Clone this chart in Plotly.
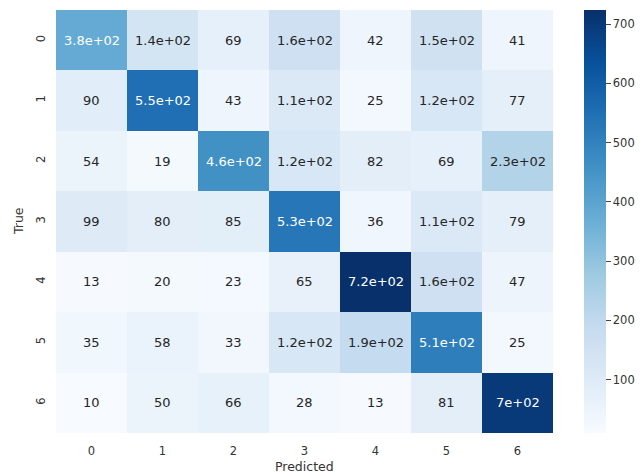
import numpy as np
import plotly.graph_objects as go

# Confusion matrix counts (rows = true class, columns = predicted class)
classes = ["0", "1", "2", "3", "4", "5", "6"]
row_0 = [380, 140, 69, 160, 42, 150, 41]
row_1 = [90, 550, 43, 110, 25, 120, 77]
row_2 = [54, 19, 460, 120, 82, 69, 230]
row_3 = [99, 80, 85, 530, 36, 110, 79]
row_4 = [13, 20, 23, 65, 724, 160, 47]
row_5 = [35, 58, 33, 120, 190, 510, 25]
row_6 = [10, 50, 66, 28, 13, 81, 700]
colorbar_ticks = [100, 200, 300, 400, 500, 600, 700]

z = np.array([row_0, row_1, row_2, row_3, row_4, row_5, row_6], dtype=float)

# Blues colour ramp
blues = ["#f7fbff", "#deebf7", "#c6dbef", "#9ecae1", "#6baed6",
         "#4292c6", "#2171b5", "#08519c", "#08306b"]
stops = np.linspace(0, 1, len(blues))
colorscale = [[float(s), c] for s, c in zip(stops, blues)]

zmin, zmax = z.min(), z.max()


def hex_rgb(h):
    h = h.lstrip("#")
    return np.array([int(h[i:i + 2], 16) for i in (0, 2, 4)]) / 255.0


rgbs = np.array([hex_rgb(c) for c in blues])


def luminance(v):
    t = (v - zmin) / (zmax - zmin)
    rgb = np.array([np.interp(t, stops, rgbs[:, k]) for k in range(3)])
    lin = np.where(rgb <= 0.03928, rgb / 12.92, ((rgb + 0.055) / 1.055) ** 2.4)
    return 0.2126 * lin[0] + 0.7152 * lin[1] + 0.0722 * lin[2]


fig = go.Figure(
    go.Heatmap(
        z=z,
        x=classes,
        y=classes,
        colorscale=colorscale,
        zmin=zmin,
        zmax=zmax,
        showscale=True,
        hoverinfo="skip",
        colorbar=dict(
            x=1.0624,
            xanchor="left",
            y=0.5,
            yanchor="middle",
            len=1.0,
            lenmode="fraction",
            thickness=22,
            thicknessmode="pixels",
            xpad=0,
            ypad=0,
            outlinewidth=0,
            ticks="outside",
            ticklen=5,
            tickwidth=1,
            tickcolor="#444444",
            tickvals=colorbar_ticks,
            tickfont=dict(family="DejaVu Sans", size=11.5, color="#333333"),
        ),
    )
)

annotations = []
for i, r in enumerate(classes):
    for j, c in enumerate(classes):
        v = z[i, j]
        annotations.append(
            dict(
                x=c,
                y=r,
                xref="x",
                yref="y",
                text=format(v, ".2g"),
                showarrow=False,
                font=dict(
                    family="DejaVu Sans",
                    size=13,
                    color="#ffffff" if luminance(v) < 0.408 else "#262626",
                ),
            )
        )

# Axis titles
annotations.append(dict(
    text="Predicted", xref="paper", yref="paper", x=0.5, y=0,
    yanchor="top", yshift=-24, showarrow=False,
    font=dict(family="DejaVu Sans", size=12.5, color="#333333"),
))
annotations.append(dict(
    text="True", xref="paper", yref="paper", x=0, y=0.5,
    xanchor="right", xshift=-28, textangle=-90, showarrow=False,
    font=dict(family="DejaVu Sans", size=12.5, color="#333333"),
))

fig.update_layout(
    width=641,
    height=474,
    margin=dict(l=56, r=88, t=10, b=41, autoexpand=False),
    paper_bgcolor="white",
    plot_bgcolor="white",
    annotations=annotations,
    font=dict(family="DejaVu Sans", color="#333333"),
    xaxis=dict(
        tickfont=dict(size=11.5, color="#333333"),
        showgrid=False,
        zeroline=False,
        ticks="",
        ticklabelstandoff=9,
        automargin=False,
    ),
    yaxis=dict(
        tickfont=dict(size=11.5, color="#333333"),
        autorange="reversed",
        tickangle=-90,
        showgrid=False,
        zeroline=False,
        ticks="",
        ticklabelstandoff=8,
        automargin=False,
    ),
)

fig.write_html("out.html")
